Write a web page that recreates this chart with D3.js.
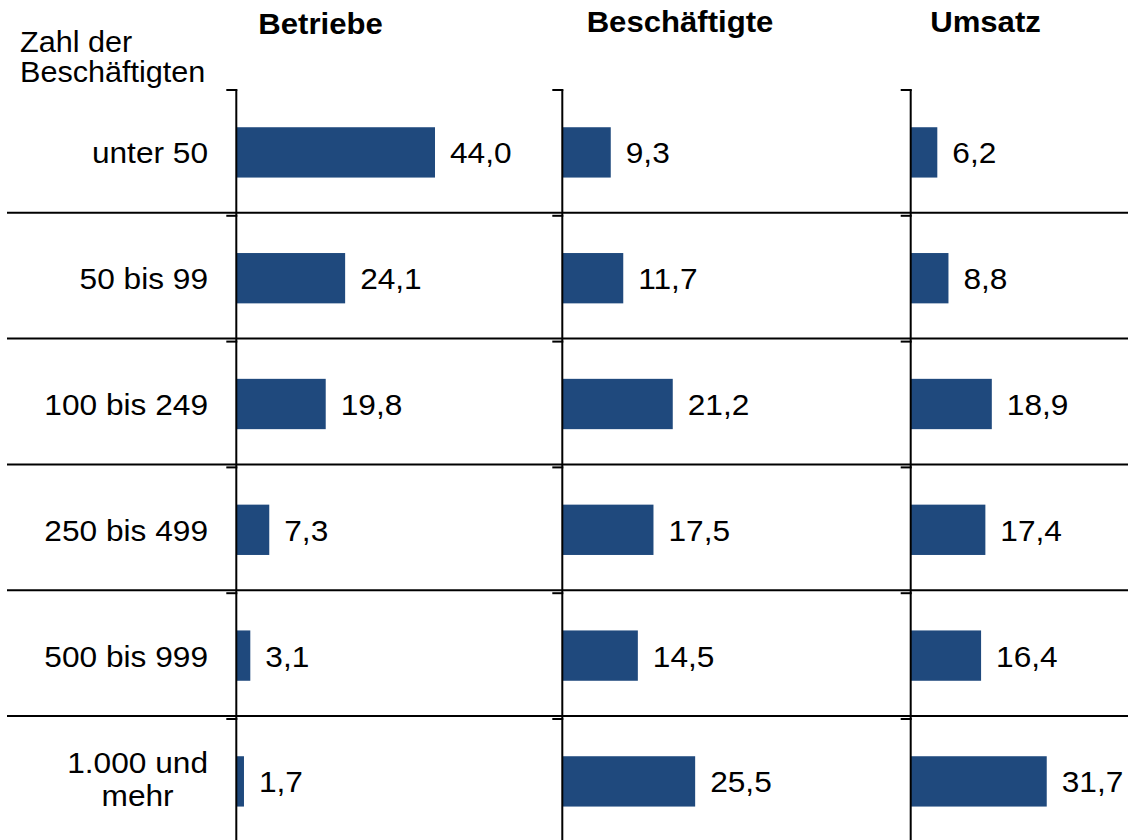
<!DOCTYPE html>
<html>
<head>
<meta charset="utf-8">
<script src="https://cdn.jsdelivr.net/npm/d3@7"></script>
<style>
  html, body { margin: 0; padding: 0; background: #fff; }
  svg { display: block; }
  text { font-family: "Liberation Sans", Arial, sans-serif; fill: #000; }
</style>
</head>
<body>
<svg id="chart" width="1128" height="840"></svg>
<script>
// Betriebsgrößenklassen (Anteile in %)
const categories = ["unter 50", "50 bis 99", "100 bis 249", "250 bis 499", "500 bis 999", "1.000 und\nmehr"];
const seriesNames = ["Betriebe", "Beschäftigte", "Umsatz"];
const betriebe      = [44.0, 24.1, 19.8, 7.3, 3.1, 1.7];
const beschaeftigte = [9.3, 11.7, 21.2, 17.5, 14.5, 25.5];
const umsatz        = [6.2, 8.8, 18.9, 17.4, 16.4, 31.7];
const axisMax       = [50, 30, 35];
const rowHeader     = ["Zahl der", "Beschäftigten"];

const W = 1128, H = 840;
const barColor = "#1F497D";
const SX = 1.055; // slightly widened lettering
const fmt = v => d3.format(".1f")(v).replace(".", ",");

const svg = d3.select("#chart");

// place a text element at (x, y) with the widened lettering
const at = (x, y) => `translate(${x},${y}) scale(${SX},1)`;

// Layout of the three panels: axis position and width of the value range
const panels = [
  { name: seriesNames[0], values: betriebe,      x0: 236.3, width: 225.8, titleX: 320.5, titleY: 33.5 },
  { name: seriesNames[1], values: beschaeftigte, x0: 562.3, width: 156.3, titleX: 680,   titleY: 32 },
  { name: seriesNames[2], values: umsatz,        x0: 910.7, width: 150.2, titleX: 985.5, titleY: 32 }
];
panels.forEach((p, i) => {
  p.x = d3.scaleLinear().domain([0, axisMax[i]]).range([p.x0, p.x0 + p.width]);
});

const y = d3.scaleBand()
  .domain(categories)
  .range([89.5, 844.3])
  .paddingInner(0.6)
  .paddingOuter(0.3);

const step = y.step();
const boundaries = d3.range(categories.length + 1)
  .map(i => y(categories[0]) - (step - y.bandwidth()) / 2 + i * step);

// Horizontal row separators
svg.append("g")
  .selectAll("line")
  .data(boundaries.slice(1, -1))
  .join("line")
  .attr("x1", 7).attr("x2", W)
  .attr("y1", d => d - 2.5).attr("y2", d => d - 2.5)
  .attr("stroke", "#000").attr("stroke-width", 2);

// Bars and value labels per panel
panels.forEach(p => {
  const g = svg.append("g");
  g.selectAll("rect")
    .data(p.values)
    .join("rect")
    .attr("x", p.x(0))
    .attr("y", (d, i) => y(categories[i]))
    .attr("width", d => p.x(d) - p.x(0))
    .attr("height", y.bandwidth())
    .attr("fill", barColor);

  g.selectAll("text.val")
    .data(p.values)
    .join("text")
    .attr("class", "val")
    .attr("transform", (d, i) => at(p.x(d) + 15, y(categories[i]) + y.bandwidth() / 2 + 11))
    .attr("font-size", 30)
    .text(d => fmt(d));

  // Vertical category axis with tick marks at the row boundaries
  g.append("line")
    .attr("x1", p.x0).attr("x2", p.x0)
    .attr("y1", boundaries[0]).attr("y2", H)
    .attr("stroke", "#000").attr("stroke-width", 2);
  g.selectAll("line.tick")
    .data(boundaries.slice(0, -1))
    .join("line")
    .attr("class", "tick")
    .attr("x1", p.x0 - 10).attr("x2", p.x0 + 1)
    .attr("y1", d => d + 0.5).attr("y2", d => d + 0.5)
    .attr("stroke", "#000").attr("stroke-width", 2);

  // Panel title
  svg.append("text")
    .attr("transform", at(p.titleX, p.titleY))
    .attr("text-anchor", "middle")
    .attr("font-size", 29.5)
    .attr("font-weight", "bold")
    .text(p.name);
});

// Category labels (right aligned, multi-line labels centred on their longest line)
const catG = svg.append("g");
categories.forEach(c => {
  const lines = c.split("\n");
  const cy = y(c) + y.bandwidth() / 2;
  if (lines.length === 1) {
    catG.append("text").attr("font-size", 30)
      .attr("transform", at(208, cy + 11))
      .attr("text-anchor", "end").text(c);
  } else {
    const t = catG.append("text").attr("font-size", 30)
      .attr("transform", at(208, 0)).attr("text-anchor", "middle");
    const spans = lines.map(l => t.append("tspan").text(l));
    const maxW = d3.max(spans, s => s.node().getComputedTextLength());
    const lh = 33;
    const y0 = cy + 11 - lh / 2 * (lines.length - 1) - 2.5;
    spans.forEach((s, i) => s.attr("x", -maxW / 2).attr("y", y0 + i * lh));
  }
});

// Header of the category column
const hdr = svg.append("text").attr("font-size", 29).attr("transform", at(20, 0));
rowHeader.forEach((l, i) => hdr.append("tspan").attr("x", 0).attr("y", 52 + i * 30).text(l));
</script>
</body>
</html>
